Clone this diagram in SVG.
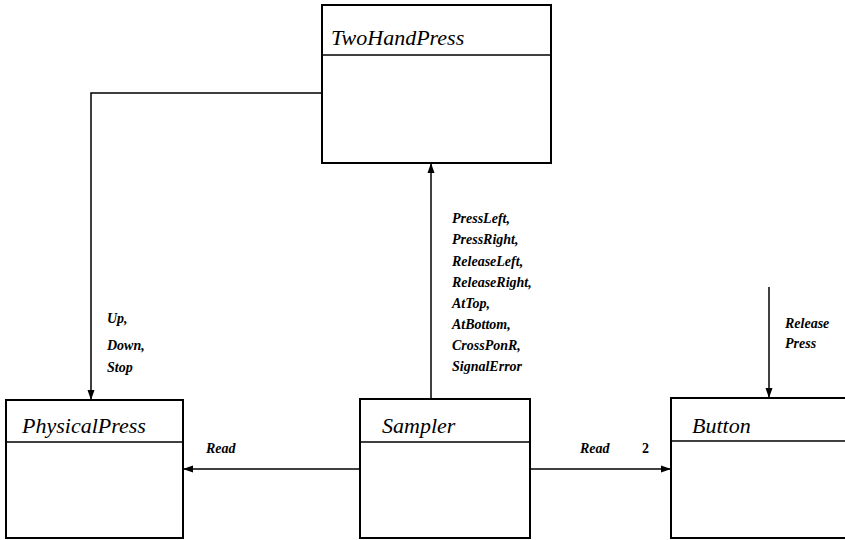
<svg xmlns="http://www.w3.org/2000/svg" width="845" height="540" viewBox="0 0 845 540">
  <style>
    text { font-family: "Liberation Serif", "DejaVu Serif", "Noto Serif", "Times New Roman", Times, serif; fill: #000; }
    .box { fill: #fff; stroke: #000; stroke-width: 2; }
    .sep { stroke: #000; stroke-width: 1.5; }
    .title { font-style: italic; font-size: 22px; }
    .lbl { font-style: italic; font-weight: bold; font-size: 14px; }
    .num { font-weight: bold; font-size: 14px; }
    .wire { fill: none; stroke: #000; stroke-width: 1.5; }
  </style>
  <defs>
    <marker id="arrow" viewBox="0 0 10 10" refX="10" refY="5" markerWidth="10" markerHeight="10" markerUnits="userSpaceOnUse" orient="auto">
      <path d="M0,1.5 L10,5 L0,8.5 Z" fill="#000"/>
    </marker>
  </defs>

  <g id="connectors">
    <!-- TwoHandPress -> PhysicalPress -->
    <path class="wire" d="M322,93 L91,93 L91,400" marker-end="url(#arrow)"/>
    <!-- Sampler -> TwoHandPress -->
    <path class="wire" d="M431,399 L431,163" marker-end="url(#arrow)"/>
    <!-- Sampler -> PhysicalPress -->
    <path class="wire" d="M360,469 L183,469" marker-end="url(#arrow)"/>
    <!-- Sampler -> Button -->
    <path class="wire" d="M530,469 L671,469" marker-end="url(#arrow)"/>
    <!-- external events -> Button -->
    <path class="wire" d="M769,287 L769,398" marker-end="url(#arrow)"/>

    <text class="lbl" x="107" y="323">Up,</text>
    <text class="lbl" x="107" y="350">Down,</text>
    <text class="lbl" x="107" y="372">Stop</text>

    <text class="lbl" x="452" y="223">PressLeft,</text>
    <text class="lbl" x="452" y="244">PressRight,</text>
    <text class="lbl" x="452" y="266">ReleaseLeft,</text>
    <text class="lbl" x="452" y="287">ReleaseRight,</text>
    <text class="lbl" x="452" y="308">AtTop,</text>
    <text class="lbl" x="452" y="329">AtBottom,</text>
    <text class="lbl" x="452" y="350">CrossPonR,</text>
    <text class="lbl" x="452" y="371">SignalError</text>

    <text class="lbl" x="785" y="328">Release</text>
    <text class="lbl" x="785" y="348">Press</text>

    <text class="lbl" x="206" y="453">Read</text>
    <text class="lbl" x="580" y="453">Read</text>
    <text class="num" x="642" y="453">2</text>
  </g>

  <g id="TwoHandPress">
    <rect class="box" x="322" y="5" width="229" height="158"/>
    <line class="sep" x1="322" y1="55" x2="551" y2="55"/>
    <text class="title" x="331" y="45">TwoHandPress</text>
  </g>

  <g id="PhysicalPress">
    <rect class="box" x="6" y="400" width="177" height="138"/>
    <line class="sep" x1="6" y1="442" x2="183" y2="442"/>
    <text class="title" x="22" y="433">PhysicalPress</text>
  </g>

  <g id="Sampler">
    <rect class="box" x="360" y="399" width="170" height="139"/>
    <line class="sep" x1="360" y1="442" x2="530" y2="442"/>
    <text class="title" x="382" y="433">Sampler</text>
  </g>

  <g id="Button">
    <rect class="box" x="671" y="398" width="180" height="140"/>
    <line class="sep" x1="671" y1="441" x2="851" y2="441"/>
    <text class="title" x="692" y="433">Button</text>
  </g>
</svg>
